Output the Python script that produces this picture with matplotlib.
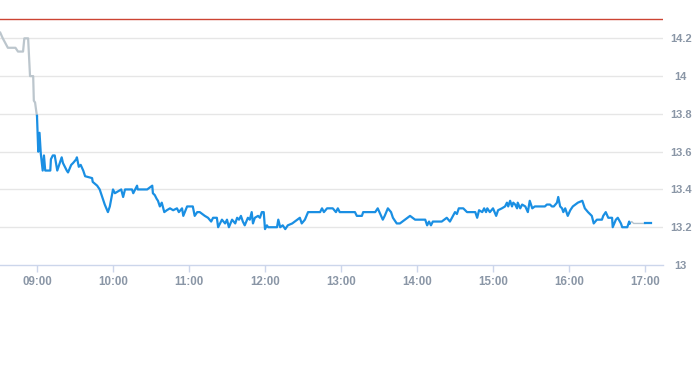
import matplotlib
matplotlib.use("Agg")
import matplotlib.pyplot as plt

# ---- data ----
pre_times = ["08:31:00", "08:33:00", "08:37:00", "08:43:00", "08:45:00", "08:49:00",
             "08:50:00", "08:53:00", "08:54:30", "08:57:00", "08:57:30", "08:58:30",
             "08:59:30", "09:00:00"]
pre_prices = [14.23, 14.20, 14.15, 14.15, 14.13, 14.13,
              14.20, 14.20, 14.00, 14.00, 13.87, 13.86,
              13.81, 13.79]

day_times = [
    "09:00:00", "09:01:00", "09:02:00", "09:03:00", "09:04:30", "09:05:30", "09:06:30",
    "09:10:30", "09:11:00", "09:12:30", "09:14:00", "09:16:00", "09:18:00", "09:19:30",
    "09:20:30", "09:23:30", "09:24:30", "09:27:00", "09:28:30", "09:31:00", "09:31:30",
    "09:33:00", "09:34:30", "09:36:30", "09:38:00", "09:43:30", "09:44:00", "09:47:30",
    "09:49:30", "09:51:30", "09:53:30", "09:56:00", "09:57:30", "10:00:00", "10:01:30",
    "10:04:00", "10:06:30", "10:08:00", "10:09:30", "10:12:00", "10:15:00", "10:16:00",
    "10:19:00", "10:19:30", "10:23:00", "10:27:00", "10:31:00", "10:31:30", "10:33:00",
    "10:34:30", "10:35:30", "10:37:00", "10:38:30", "10:40:30", "10:42:30", "10:45:00",
    "10:47:30", "10:50:30", "10:52:00", "10:54:30", "10:55:30", "10:58:30", "11:03:00",
    "11:04:30", "11:06:30", "11:08:30", "11:12:30", "11:15:00", "11:17:30", "11:19:00",
    "11:22:00", "11:23:00", "11:26:00", "11:28:30", "11:30:00", "11:31:30", "11:34:00",
    "11:36:30", "11:38:00", "11:39:30", "11:41:00", "11:42:30", "11:44:00", "11:46:30",
    "11:48:00", "11:49:30", "11:50:30", "11:52:00", "11:54:30", "11:56:00", "11:57:30",
    "11:59:00", "12:00:00", "12:01:30", "12:02:30", "12:05:30", "12:09:30", "12:10:30",
    "12:12:00", "12:14:00", "12:16:00", "12:18:00", "12:21:30", "12:25:30", "12:27:30",
    "12:29:00", "12:31:30", "12:34:00", "12:35:30", "12:43:30", "12:45:00", "12:46:30",
    "12:49:00", "12:53:30", "12:56:00", "12:57:30", "12:59:00", "13:11:00", "13:12:30",
    "13:16:30", "13:17:30", "13:27:00", "13:29:00", "13:33:00", "13:34:30", "13:37:00",
    "13:39:30", "13:41:00", "13:44:00", "13:46:30", "13:50:30", "13:54:30", "13:58:30",
    "14:04:30", "14:06:30", "14:08:00", "14:09:30", "14:11:00", "14:12:30", "14:19:30",
    "14:23:30", "14:26:00", "14:30:00", "14:31:30", "14:33:00", "14:36:30", "14:39:30",
    "14:46:00", "14:47:30", "14:49:00", "14:51:30", "14:53:00", "14:54:30", "14:55:30",
    "14:57:30", "15:00:00", "15:02:30", "15:04:00", "15:07:00", "15:09:30", "15:11:00",
    "15:12:00", "15:13:30", "15:15:00", "15:16:00", "15:17:30", "15:19:00", "15:19:30",
    "15:21:30", "15:23:00", "15:25:30", "15:27:30", "15:29:00", "15:31:00", "15:33:00",
    "15:41:00", "15:42:30", "15:45:00", "15:46:30", "15:48:00", "15:50:30", "15:51:30",
    "15:53:00", "15:54:30", "15:55:30", "15:57:00", "15:59:00", "16:01:00", "16:03:00",
    "16:07:00", "16:10:30", "16:12:30", "16:15:00", "16:18:00", "16:19:30", "16:22:00",
    "16:26:00", "16:27:00", "16:29:00", "16:31:00", "16:34:00", "16:34:30", "16:37:00",
    "16:38:30", "16:41:00", "16:42:00", "16:46:00", "16:47:30", "16:48:00",
]
day_prices = [
    13.79, 13.60, 13.70, 13.59, 13.50, 13.58, 13.50,
    13.50, 13.56, 13.58, 13.58, 13.50, 13.54, 13.57,
    13.54, 13.50, 13.49, 13.53, 13.54, 13.56, 13.57,
    13.52, 13.53, 13.50, 13.47, 13.46, 13.44, 13.42,
    13.40, 13.36, 13.32, 13.28, 13.31, 13.40, 13.38,
    13.39, 13.40, 13.36, 13.40, 13.40, 13.40, 13.38,
    13.42, 13.40, 13.40, 13.40, 13.42, 13.38, 13.37,
    13.35, 13.34, 13.31, 13.33, 13.28, 13.29, 13.30,
    13.29, 13.30, 13.28, 13.30, 13.26, 13.31, 13.31,
    13.26, 13.28, 13.28, 13.26, 13.25, 13.23, 13.25,
    13.25, 13.20, 13.24, 13.22, 13.24, 13.20, 13.24,
    13.22, 13.25, 13.24, 13.26, 13.23, 13.21, 13.25,
    13.24, 13.28, 13.22, 13.25, 13.26, 13.25, 13.28,
    13.28, 13.19, 13.21, 13.20, 13.20, 13.20, 13.24,
    13.20, 13.21, 13.19, 13.21, 13.22, 13.24, 13.25,
    13.22, 13.24, 13.28, 13.28, 13.28, 13.30, 13.28,
    13.30, 13.30, 13.28, 13.30, 13.28, 13.28, 13.26,
    13.26, 13.28, 13.28, 13.30, 13.24, 13.26, 13.30,
    13.28, 13.25, 13.22, 13.22, 13.24, 13.26, 13.24,
    13.24, 13.24, 13.21, 13.23, 13.21, 13.23, 13.23,
    13.25, 13.23, 13.28, 13.27, 13.30, 13.30, 13.28,
    13.28, 13.25, 13.29, 13.28, 13.30, 13.28, 13.30,
    13.28, 13.30, 13.26, 13.29, 13.30, 13.31, 13.33,
    13.31, 13.34, 13.31, 13.33, 13.32, 13.30, 13.33,
    13.30, 13.32, 13.31, 13.28, 13.34, 13.30, 13.31,
    13.31, 13.32, 13.32, 13.31, 13.31, 13.33, 13.36,
    13.31, 13.30, 13.28, 13.30, 13.26, 13.29, 13.31,
    13.33, 13.34, 13.30, 13.28, 13.26, 13.22, 13.24,
    13.24, 13.26, 13.28, 13.25, 13.25, 13.20, 13.24,
    13.25, 13.22, 13.20, 13.20, 13.23, 13.22,
]

post_times = ["16:48:00", "16:49:30", "16:51:00", "17:00:00"]
post_prices = [13.22, 13.23, 13.22, 13.22]

close_times = ["17:00:00", "17:05:00"]
close_prices = [13.22, 13.22]

prev_close = 14.30

x_ticks = ["09:00", "10:00", "11:00", "12:00", "13:00", "14:00", "15:00", "16:00", "17:00"]
y_ticks = [13.0, 13.2, 13.4, 13.6, 13.8, 14.0, 14.2]
y_tick_labels = ["13", "13.2", "13.4", "13.6", "13.8", "14", "14.2"]


def to_min(t):
    parts = [int(p) for p in t.split(":")]
    while len(parts) < 3:
        parts.append(0)
    return parts[0] * 60 + parts[1] + parts[2] / 60.0


W, H = 693, 365
fig = plt.figure(figsize=(W / 100, H / 100), dpi=100)
ax = fig.add_axes([0, (H - 265) / H, 663 / W, 255 / H])

label_color = "#8a96a6"
grid_color = "#e6e6e6"
axis_color = "#ccd6eb"

ax.set_xlim(to_min("08:30:48"), to_min("17:14:12"))
ax.set_ylim(13.0, 14.35)

for v in y_ticks[1:]:
    ax.axhline(v, color=grid_color, lw=1, zorder=1)

ax.axhline(prev_close, color="#cc4433", lw=1, zorder=2)

ax.plot([to_min(t) for t in pre_times], pre_prices, color="#bcc6cd", lw=1.6,
        solid_joinstyle="round", zorder=3)
ax.plot([to_min(t) for t in day_times], day_prices, color="#1a8fe3", lw=1.6,
        solid_joinstyle="round", zorder=4)
ax.plot([to_min(t) for t in post_times], post_prices, color="#b5c2cc", lw=1.0, zorder=3)
ax.plot([to_min(t) for t in close_times], close_prices, color="#1a8fe3", lw=1.6, zorder=4)

for s in ["top", "left", "right"]:
    ax.spines[s].set_visible(False)
ax.spines["bottom"].set_color(axis_color)
ax.spines["bottom"].set_linewidth(1)

ax.set_xticks([to_min(t) for t in x_ticks])
ax.set_xticklabels(x_ticks)
ax.tick_params(axis="x", length=5, width=1, color=axis_color, pad=3,
               labelsize=8.3, labelcolor=label_color)

ax.yaxis.tick_right()
ax.set_yticks(y_ticks)
ax.set_yticklabels(y_tick_labels)
ax.tick_params(axis="y", length=0, pad=12.8, labelsize=8.0, labelcolor=label_color)
for lab in ax.get_yticklabels():
    lab.set_horizontalalignment("center")

for lab in ax.get_xticklabels() + ax.get_yticklabels():
    lab.set_fontfamily(["Liberation Sans", "DejaVu Sans"])
    lab.set_fontweight("bold")

ax.set_facecolor("white")
fig.patch.set_facecolor("white")
fig.savefig("out.png", dpi=100)
